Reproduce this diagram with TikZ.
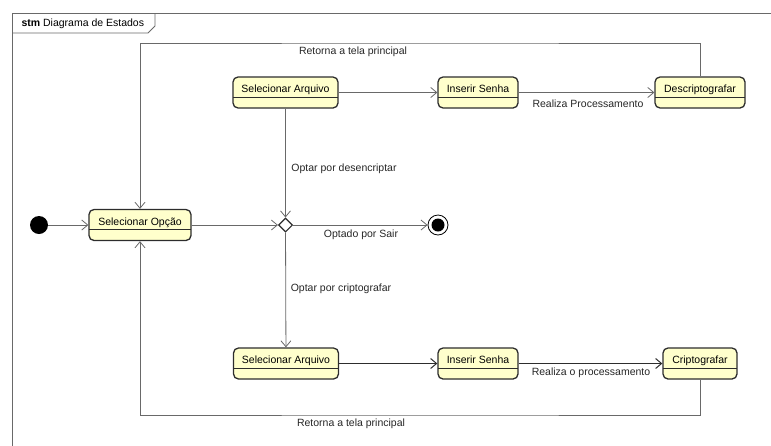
\documentclass[tikz,border=0pt]{standalone}
\usepackage{fontspec}
\setmainfont{Liberation Sans}
\usetikzlibrary{arrows.meta,shapes.geometric}
\definecolor{amarelo}{RGB}{255,255,204}
\definecolor{borda}{RGB}{45,45,45}
\definecolor{linha}{RGB}{105,105,105}

\begin{document}
\begin{tikzpicture}[x=1pt, y=-1pt,
		estado/.style = {draw=borda, line width=1.3pt, fill=amarelo, rounded corners=5pt,
			minimum height=31pt, inner xsep=3pt, text height=7pt, text depth=7pt,
			font=\fontsize{10.5}{12}\selectfont,
			path picture={\draw[borda, line width=0.6pt] ([yshift=-4.5pt]path picture bounding box.west) -- ([yshift=-4.5pt]path picture bounding box.east);}},
		trans/.style = {draw=linha, line width=0.8pt, -{Straight Barb[length=6pt,width=10pt]}},
		forte/.style = {draw=borda, line width=1pt},
		rotulo/.style = {font=\fontsize{10.5}{12}\selectfont, text=black!85},
		moldura/.style = {draw=linha, line width=0.8pt}]
		\useasboundingbox (0,0) rectangle (771,445);
		\draw[moldura] (12,446) -- (12,13) -- (772,13);
		\draw[moldura] (12,33) -- (148,33) -- (155,26) -- (155,13);
		\node[anchor=west, rotulo, text=black] (titulo) at (18,23.5) {\textbf{stm} Diagrama de Estados};
		\node[circle, fill=black, minimum size=18pt, inner sep=0pt] (inicio) at (39,225) {};
		\node[estado, minimum width=102pt] (opcao) at (140,225) {Selecionar Opção};
		\node[diamond, draw=borda, line width=1.1pt, fill=white, minimum width=14pt, minimum height=14pt, inner sep=0pt] (decisao) at (285.5,225) {};
		\node[circle, draw=black, line width=0.8pt, minimum size=20pt, inner sep=0pt,
			path picture={\fill[black] (path picture bounding box.center) circle (6.5pt);}] (fim) at (438,225) {};
		\node[estado, minimum width=105pt] (arquivoD) at (285.5,92.5) {Selecionar Arquivo};
		\node[estado, minimum width=80pt] (senhaD) at (478,92.5) {Inserir Senha};
		\node[estado, minimum width=90pt] (descripto) at (700,92.5) {Descriptografar};
		\node[estado, minimum width=105pt] (arquivoC) at (286,363.5) {Selecionar Arquivo};
		\node[estado, minimum width=80pt] (senhaC) at (478,363.5) {Inserir Senha};
		\node[estado, minimum width=74pt] (cripto) at (700,363.5) {Criptografar};
		\coordinate (retTopo) at (420,43);
		\coordinate (retBase) at (420,415);
		\draw[trans] (inicio) -- (opcao);
		\draw[trans] (opcao) -- (decisao);
		\draw[trans] (decisao) -- (fim);
		\draw[trans] (arquivoD) -- (decisao);
		\draw[trans] (decisao) -- (arquivoC);
		\draw[trans] (arquivoD) -- (senhaD);
		\draw[trans] (senhaD) -- (descripto);
		\draw[trans, forte] (arquivoC) -- (senhaC);
		\draw[trans, forte] (senhaC) -- (cripto);
		\draw[trans] (descripto.north) |- (retTopo) -| (opcao.north);
		\draw[trans] (cripto.south) |- (retBase) -| (opcao.south);
		\node[rotulo] (lblTopo) at (353,52) {Retorna a tela principal};
		\node[rotulo] (lblProcD) at (588,104) {Realiza Processamento};
		\node[rotulo] (lblDesc) at (344,169) {Optar por desencriptar};
		\node[rotulo] (lblSair) at (361,235) {Optado por Sair};
		\node[rotulo] (lblCripto) at (341,289) {Optar por criptografar};
		\node[rotulo] (lblProcC) at (591,373) {Realiza o processamento};
		\node[rotulo] (lblBase) at (351,424) {Retorna a tela principal};
	\end{tikzpicture}
\end{document}
